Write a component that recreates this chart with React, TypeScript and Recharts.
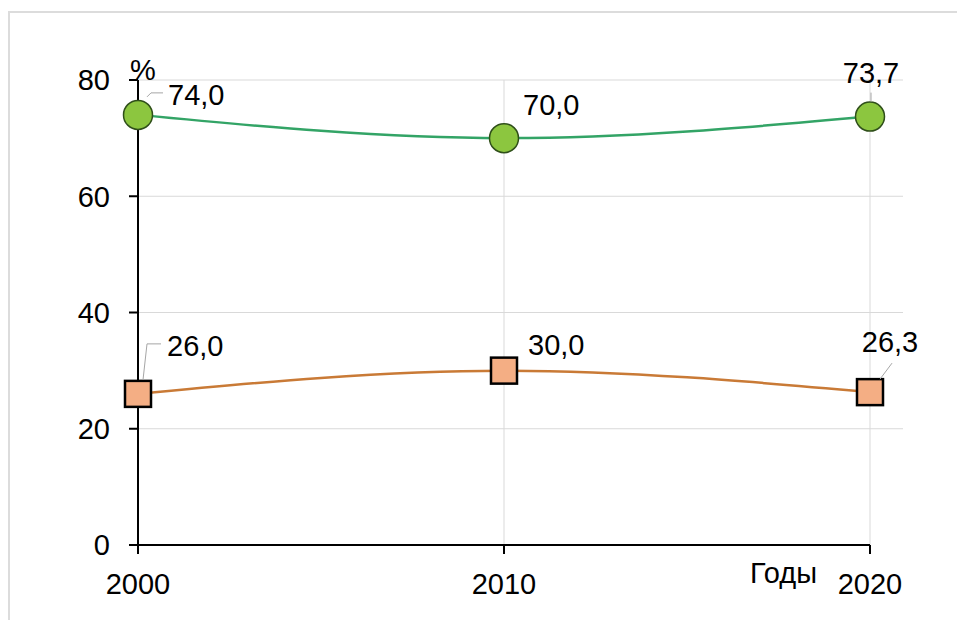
import {
  LineChart,
  Line,
  XAxis,
  YAxis,
  ReferenceLine,
  LabelList,
} from "recharts";

const YEARS = [2000, 2010, 2020];
const GREEN_VALUES = [74.0, 70.0, 73.7];
const ORANGE_VALUES = [26.0, 30.0, 26.3];
const Y_TICKS = [0, 20, 40, 60, 80];

// where each data label sits relative to its point, plus the little grey leader line
const GREEN_LABELS = [
  { dx: 30, dy: -10, anchor: "start", leader: [[9, -18], [13, -22], [25, -22]] },
  { dx: 19, dy: -23, anchor: "start", leader: [] },
  { dx: 1, dy: -34, anchor: "middle", leader: [[1, -24], [1, -15]] },
];
const ORANGE_LABELS = [
  { dx: 29, dy: -38, anchor: "start", leader: [[5, -14], [9, -50], [23, -50]] },
  { dx: 24, dy: -16, anchor: "start", leader: [] },
  { dx: 20, dy: -40, anchor: "middle", leader: [[10, -13], [22, -29]] },
];

const FONT = "'Liberation Sans', Arial, sans-serif";
const FONT_SIZE = 29;
const GRID = "#d9d9d9";

const data = YEARS.map((year, i) => ({
  year,
  green: GREEN_VALUES[i],
  orange: ORANGE_VALUES[i],
}));

const fmt = (v: number) => v.toFixed(1).replace(".", ",");

function renderLabel(props: any, layout: typeof GREEN_LABELS) {
  const { x, y, value, index } = props;
  const pos = layout[index];
  if (!pos) return null;
  const pts = pos.leader.map(([dx, dy]) => `${x + dx},${y + dy}`).join(" ");
  return (
    <g key={`lbl-${index}`}>
      {pos.leader.length > 0 && (
        <polyline points={pts} fill="none" stroke="#a6a6a6" strokeWidth={1} />
      )}
      <text
        x={x + pos.dx}
        y={y + pos.dy}
        textAnchor={pos.anchor as any}
        fontSize={FONT_SIZE}
        fontFamily={FONT}
        fill="#000"
      >
        {fmt(value)}
      </text>
    </g>
  );
}

const GreenDot = (props: any) => (
  <circle
    key={`g-${props.index}`}
    cx={props.cx}
    cy={props.cy}
    r={14.5}
    fill="#8cc63f"
    stroke="#2f4f1a"
    strokeWidth={1.5}
  />
);

const OrangeDot = (props: any) => (
  <rect
    key={`o-${props.index}`}
    x={props.cx - 13}
    y={props.cy - 13}
    width={26}
    height={26}
    fill="#f4ae84"
    stroke="#000"
    strokeWidth={2.5}
  />
);

export default function App() {
  return (
    <div style={{ position: "absolute", left: 0, top: 0, width: 957, height: 620, background: "#fff" }}>
      <div
        style={{
          position: "absolute",
          left: 8,
          top: 11,
          width: 949,
          height: 609,
          borderTop: "2px solid #dcdcdc",
          borderLeft: "2px solid #dcdcdc",
        }}
      />
      <div style={{ position: "absolute", left: 0, top: 0 }}>
        <LineChart width={957} height={620} data={data} margin={{ top: 80, right: 54, left: 0, bottom: 0 }}>
          <XAxis
            dataKey="year"
            type="number"
            domain={[2000, 2020]}
            ticks={YEARS}
            interval={0}
            padding={{ left: 0, right: 33 }}
            axisLine={false}
            tickLine={{ stroke: "#000", strokeWidth: 2 }}
            tickSize={9}
            tickMargin={19}
            height={75}
            tick={{ fill: "#000", fontSize: FONT_SIZE, fontFamily: FONT }}
          />
          <YAxis
            type="number"
            domain={[0, 80]}
            ticks={Y_TICKS}
            interval={0}
            width={138}
            axisLine={{ stroke: "#000", strokeWidth: 2 }}
            tickLine={{ stroke: "#000", strokeWidth: 2 }}
            tickSize={9}
            tickMargin={19}
            tick={{ fill: "#000", fontSize: FONT_SIZE, fontFamily: FONT }}
          />
          {Y_TICKS.filter((t) => t > 0).map((t) => (
            <ReferenceLine key={`h-${t}`} y={t} stroke={GRID} strokeWidth={1} />
          ))}
          {YEARS.slice(1).map((yr) => (
            <ReferenceLine key={`v-${yr}`} x={yr} stroke={GRID} strokeWidth={1} />
          ))}
          <ReferenceLine
            segment={[
              { x: 2000, y: 0 },
              { x: 2020, y: 0 },
            ]}
            stroke="#000"
            strokeWidth={2}
          />
          <Line
            dataKey="orange"
            type="monotone"
            stroke="#c97a36"
            strokeWidth={2.5}
            dot={OrangeDot}
            activeDot={false}
            isAnimationActive={false}
          >
            <LabelList dataKey="orange" content={(p: any) => renderLabel(p, ORANGE_LABELS)} />
          </Line>
          <Line
            dataKey="green"
            type="monotone"
            stroke="#33a466"
            strokeWidth={2.5}
            dot={GreenDot}
            activeDot={false}
            isAnimationActive={false}
          >
            <LabelList dataKey="green" content={(p: any) => renderLabel(p, GREEN_LABELS)} />
          </Line>
        </LineChart>
      </div>
      <svg width={957} height={620} style={{ position: "absolute", left: 0, top: 0, pointerEvents: "none" }}>
        <text x={130} y={80} fontSize={FONT_SIZE} fontFamily={FONT} fill="#000">
          %
        </text>
        <text x={750} y={583} fontSize={FONT_SIZE} fontFamily={FONT} fill="#000">
          Годы
        </text>
      </svg>
    </div>
  );
}
